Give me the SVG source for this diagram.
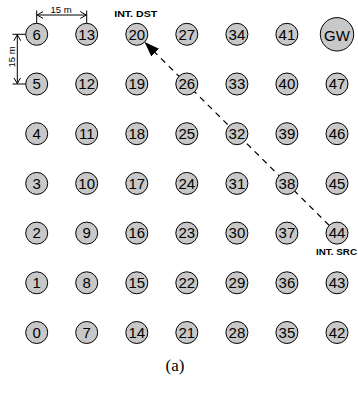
<svg xmlns="http://www.w3.org/2000/svg" width="358" height="397" viewBox="0 0 358 397">
<style>
.n circle{fill:#c8c8c8;stroke:#000;stroke-width:1}
.n text{font-family:"Liberation Sans",Arial,sans-serif;font-size:15px;text-anchor:middle;fill:#000}
.lbl{font-family:"Liberation Sans",Arial,sans-serif;font-size:9px;font-weight:bold;text-anchor:middle}
.dim{stroke:#000;stroke-width:1;fill:none}
.dimt{font-family:"Liberation Sans",Arial,sans-serif;font-size:9.5px;text-anchor:middle}
</style>
<defs>
<marker id="open" markerUnits="userSpaceOnUse" markerWidth="8" markerHeight="8" refX="6" refY="4" orient="auto-start-reverse" viewBox="0 0 8 8">
<path d="M0,0.5 L6,4 L0,7.5" fill="none" stroke="#000" stroke-width="1"/>
</marker>
<marker id="solid" markerUnits="userSpaceOnUse" markerWidth="16" markerHeight="11" refX="15" refY="5.5" orient="auto" viewBox="0 0 16 11">
<path d="M0,0 L15,5.5 L0,11 z" fill="#000"/>
</marker>
</defs>
<g id="dimensions">
<line class="dim" x1="36.7" y1="10.5" x2="36.7" y2="23.3"/>
<line class="dim" x1="86.7" y1="10.5" x2="86.7" y2="23.3"/>
<line class="dim" x1="37.2" y1="15" x2="86.2" y2="15" marker-start="url(#open)" marker-end="url(#open)"/>
<text class="dimt" x="61" y="12.5">15 m</text>
<line class="dim" x1="12.5" y1="34.3" x2="25.7" y2="34.3"/>
<line class="dim" x1="12.5" y1="84" x2="25.7" y2="84"/>
<line class="dim" x1="17.3" y1="34.8" x2="17.3" y2="83.5" marker-start="url(#open)" marker-end="url(#open)"/>
<text class="dimt" transform="translate(14.5,57) rotate(-90)">15 m</text>
</g>
<g id="connectors">
<line x1="329.1" y1="225.3" x2="144.6" y2="42.1" stroke="#000" stroke-width="1.2" stroke-dasharray="6,5" marker-end="url(#solid)"/>
</g>
<g id="labels">
<text class="lbl" x="135.7" y="16.7" textLength="43" lengthAdjust="spacingAndGlyphs">INT. DST</text>
<text class="lbl" x="336.5" y="255" textLength="41" lengthAdjust="spacingAndGlyphs">INT. SRC</text>
<text x="175" y="371" font-family="'Liberation Serif','Times New Roman',serif" font-size="17" text-anchor="middle">(a)</text>
</g>
<g id="nodes">
<g class="n" id="n6"><circle cx="36.7" cy="34.3" r="11"/><text x="36.7" y="39.6">6</text></g>
<g class="n" id="n5"><circle cx="36.7" cy="84" r="11"/><text x="36.7" y="89.3">5</text></g>
<g class="n" id="n4"><circle cx="36.7" cy="133.7" r="11"/><text x="36.7" y="139">4</text></g>
<g class="n" id="n3"><circle cx="36.7" cy="183.4" r="11"/><text x="36.7" y="188.7">3</text></g>
<g class="n" id="n2"><circle cx="36.7" cy="233.1" r="11"/><text x="36.7" y="238.4">2</text></g>
<g class="n" id="n1"><circle cx="36.7" cy="282.8" r="11"/><text x="36.7" y="288.1">1</text></g>
<g class="n" id="n0"><circle cx="36.7" cy="332.5" r="11"/><text x="36.7" y="337.8">0</text></g>
<g class="n" id="n13"><circle cx="86.7" cy="34.3" r="11"/><text x="86.7" y="39.6">13</text></g>
<g class="n" id="n12"><circle cx="86.7" cy="84" r="11"/><text x="86.7" y="89.3">12</text></g>
<g class="n" id="n11"><circle cx="86.7" cy="133.7" r="11"/><text x="86.7" y="139">11</text></g>
<g class="n" id="n10"><circle cx="86.7" cy="183.4" r="11"/><text x="86.7" y="188.7">10</text></g>
<g class="n" id="n9"><circle cx="86.7" cy="233.1" r="11"/><text x="86.7" y="238.4">9</text></g>
<g class="n" id="n8"><circle cx="86.7" cy="282.8" r="11"/><text x="86.7" y="288.1">8</text></g>
<g class="n" id="n7"><circle cx="86.7" cy="332.5" r="11"/><text x="86.7" y="337.8">7</text></g>
<g class="n" id="n20"><circle cx="136.8" cy="34.3" r="11"/><text x="136.8" y="39.6">20</text></g>
<g class="n" id="n19"><circle cx="136.8" cy="84" r="11"/><text x="136.8" y="89.3">19</text></g>
<g class="n" id="n18"><circle cx="136.8" cy="133.7" r="11"/><text x="136.8" y="139">18</text></g>
<g class="n" id="n17"><circle cx="136.8" cy="183.4" r="11"/><text x="136.8" y="188.7">17</text></g>
<g class="n" id="n16"><circle cx="136.8" cy="233.1" r="11"/><text x="136.8" y="238.4">16</text></g>
<g class="n" id="n15"><circle cx="136.8" cy="282.8" r="11"/><text x="136.8" y="288.1">15</text></g>
<g class="n" id="n14"><circle cx="136.8" cy="332.5" r="11"/><text x="136.8" y="337.8">14</text></g>
<g class="n" id="n27"><circle cx="186.8" cy="34.3" r="11"/><text x="186.8" y="39.6">27</text></g>
<g class="n" id="n26"><circle cx="186.8" cy="84" r="11"/><text x="186.8" y="89.3">26</text></g>
<g class="n" id="n25"><circle cx="186.8" cy="133.7" r="11"/><text x="186.8" y="139">25</text></g>
<g class="n" id="n24"><circle cx="186.8" cy="183.4" r="11"/><text x="186.8" y="188.7">24</text></g>
<g class="n" id="n23"><circle cx="186.8" cy="233.1" r="11"/><text x="186.8" y="238.4">23</text></g>
<g class="n" id="n22"><circle cx="186.8" cy="282.8" r="11"/><text x="186.8" y="288.1">22</text></g>
<g class="n" id="n21"><circle cx="186.8" cy="332.5" r="11"/><text x="186.8" y="337.8">21</text></g>
<g class="n" id="n34"><circle cx="236.9" cy="34.3" r="11"/><text x="236.9" y="39.6">34</text></g>
<g class="n" id="n33"><circle cx="236.9" cy="84" r="11"/><text x="236.9" y="89.3">33</text></g>
<g class="n" id="n32"><circle cx="236.9" cy="133.7" r="11"/><text x="236.9" y="139">32</text></g>
<g class="n" id="n31"><circle cx="236.9" cy="183.4" r="11"/><text x="236.9" y="188.7">31</text></g>
<g class="n" id="n30"><circle cx="236.9" cy="233.1" r="11"/><text x="236.9" y="238.4">30</text></g>
<g class="n" id="n29"><circle cx="236.9" cy="282.8" r="11"/><text x="236.9" y="288.1">29</text></g>
<g class="n" id="n28"><circle cx="236.9" cy="332.5" r="11"/><text x="236.9" y="337.8">28</text></g>
<g class="n" id="n41"><circle cx="286.9" cy="34.3" r="11"/><text x="286.9" y="39.6">41</text></g>
<g class="n" id="n40"><circle cx="286.9" cy="84" r="11"/><text x="286.9" y="89.3">40</text></g>
<g class="n" id="n39"><circle cx="286.9" cy="133.7" r="11"/><text x="286.9" y="139">39</text></g>
<g class="n" id="n38"><circle cx="286.9" cy="183.4" r="11"/><text x="286.9" y="188.7">38</text></g>
<g class="n" id="n37"><circle cx="286.9" cy="233.1" r="11"/><text x="286.9" y="238.4">37</text></g>
<g class="n" id="n36"><circle cx="286.9" cy="282.8" r="11"/><text x="286.9" y="288.1">36</text></g>
<g class="n" id="n35"><circle cx="286.9" cy="332.5" r="11"/><text x="286.9" y="337.8">35</text></g>
<g class="n" id="nGW"><circle cx="337" cy="34.3" r="16.7"/><text x="337" y="41" font-size="18.5px">GW</text></g>
<g class="n" id="n47"><circle cx="337" cy="84" r="11"/><text x="337" y="89.3">47</text></g>
<g class="n" id="n46"><circle cx="337" cy="133.7" r="11"/><text x="337" y="139">46</text></g>
<g class="n" id="n45"><circle cx="337" cy="183.4" r="11"/><text x="337" y="188.7">45</text></g>
<g class="n" id="n44"><circle cx="337" cy="233.1" r="11"/><text x="337" y="238.4">44</text></g>
<g class="n" id="n43"><circle cx="337" cy="282.8" r="11"/><text x="337" y="288.1">43</text></g>
<g class="n" id="n42"><circle cx="337" cy="332.5" r="11"/><text x="337" y="337.8">42</text></g>
</g>
</svg>
